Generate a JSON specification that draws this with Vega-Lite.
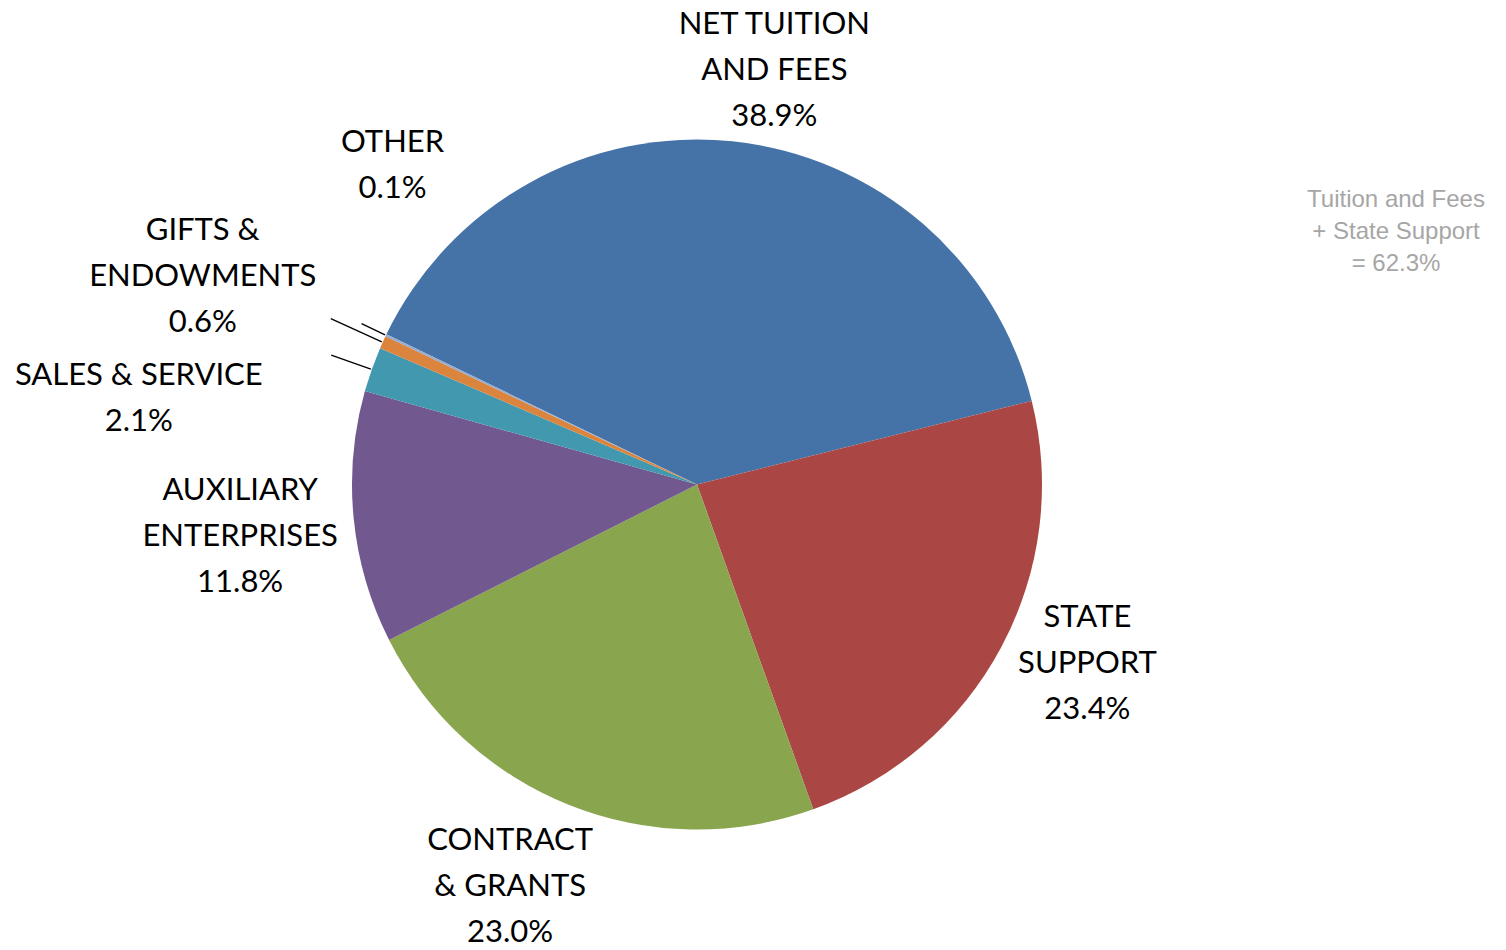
{
  "$schema": "https://vega.github.io/schema/vega-lite/v6.json",
  "width": 1394,
  "height": 931,
  "autosize": "none",
  "padding": {"left": 0, "top": 19, "right": 112, "bottom": 0},
  "background": "white",
  "config": {"view": {"stroke": null}},
  "title": {
    "text": ["Tuition and Fees", "+ State Support", "= 62.3%"],
    "anchor": "end",
    "frame": "group",
    "align": "center",
    "baseline": "alphabetic",
    "offset": 0,
    "dx": 2,
    "dy": 286,
    "fontSize": 24,
    "font": "Liberation Sans",
    "fontWeight": "normal",
    "color": "#A6A6A6",
    "lineHeight": 32
  },
  "data": {
    "values": [
      {"name": "NET TUITION\nAND FEES", "value": 38.9, "order": 1},
      {"name": "STATE\nSUPPORT", "value": 23.4, "order": 2},
      {"name": "CONTRACT\n& GRANTS", "value": 23.0, "order": 3},
      {"name": "AUXILIARY\nENTERPRISES", "value": 11.8, "order": 4},
      {"name": "SALES & SERVICE", "value": 2.1, "order": 5},
      {"name": "GIFTS &\nENDOWMENTS", "value": 0.6, "order": 6},
      {"name": "OTHER", "value": 0.1, "order": 7}
    ]
  },
  "transform": [
    {"window": [{"op": "sum", "field": "value", "as": "cum"}], "sort": [{"field": "order"}], "frame": [null, 0]},
    {"calculate": "datum.cum - datum.value / 2", "as": "mid"},
    {"calculate": "datum.name + '\\n' + format(datum.value, '.1f') + '%'", "as": "label"}
  ],
  "layer": [
    {
      "mark": {"type": "arc", "radius": 345},
      "encoding": {
        "theta": {"field": "value", "type": "quantitative", "stack": true, "scale": {"domain": [0, 99.9], "range": [-1.1205, 5.1627]}},
        "color": {
          "field": "name", "type": "nominal", "legend": null,
          "scale": {
            "domain": ["NET TUITION\nAND FEES", "STATE\nSUPPORT", "CONTRACT\n& GRANTS", "AUXILIARY\nENTERPRISES", "SALES & SERVICE", "GIFTS &\nENDOWMENTS", "OTHER"],
            "range": ["#4572A7", "#AA4643", "#89A54E", "#71588F", "#4198AF", "#DB843D", "#93A9CF"]
          }
        },
        "order": {"field": "order", "type": "quantitative"}
      }
    },
    {
      "transform": [{"filter": "datum.order == 5"}],
      "mark": {"type": "arc", "radius": 388, "radius2": 346, "filled": false, "stroke": "black", "strokeWidth": 1.3},
      "encoding": {
        "theta": {"field": "mid", "type": "quantitative", "stack": null},
        "theta2": {"field": "mid"}
      }
    },
    {
      "transform": [{"filter": "datum.order == 6"}],
      "mark": {"type": "arc", "radius": 402, "radius2": 346, "filled": false, "stroke": "black", "strokeWidth": 1.3},
      "encoding": {
        "theta": {"field": "mid", "type": "quantitative", "stack": null},
        "theta2": {"field": "mid"}
      }
    },
    {
      "transform": [{"filter": "datum.order == 7"}],
      "mark": {"type": "arc", "radius": 372, "radius2": 346, "filled": false, "stroke": "black", "strokeWidth": 1.3},
      "encoding": {
        "theta": {"field": "mid", "type": "quantitative", "stack": null},
        "theta2": {"field": "mid"}
      }
    },
    {
      "transform": [{"filter": "datum.order == 1"}],
      "mark": {"type": "text", "radius": 422, "dx": 34, "dy": -31, "align": "center", "baseline": "alphabetic", "lineBreak": "\n", "lineHeight": 46, "font": "Lato", "fontSize": 31, "color": "black"},
      "encoding": {"theta": {"field": "mid", "type": "quantitative", "stack": null}, "text": {"field": "label"}}
    },
    {
      "transform": [{"filter": "datum.order == 2"}],
      "mark": {"type": "text", "radius": 428, "dx": 13, "dy": -59, "align": "center", "baseline": "alphabetic", "lineBreak": "\n", "lineHeight": 46, "font": "Lato", "fontSize": 31, "color": "black"},
      "encoding": {"theta": {"field": "mid", "type": "quantitative", "stack": null}, "text": {"field": "label"}}
    },
    {
      "transform": [{"filter": "datum.order == 3"}],
      "mark": {"type": "text", "radius": 445, "dx": -22, "dy": -48, "align": "center", "baseline": "alphabetic", "lineBreak": "\n", "lineHeight": 46, "font": "Lato", "fontSize": 31, "color": "black"},
      "encoding": {"theta": {"field": "mid", "type": "quantitative", "stack": null}, "text": {"field": "label"}}
    },
    {
      "transform": [{"filter": "datum.order == 4"}],
      "mark": {"type": "text", "radius": 460, "dx": 1, "dy": -29, "align": "center", "baseline": "alphabetic", "lineBreak": "\n", "lineHeight": 46, "font": "Lato", "fontSize": 31, "color": "black"},
      "encoding": {"theta": {"field": "mid", "type": "quantitative", "stack": null}, "text": {"field": "label"}}
    },
    {
      "transform": [{"filter": "datum.order == 5"}],
      "mark": {"type": "text", "radius": 555, "dx": -35, "dy": 86, "align": "center", "baseline": "alphabetic", "lineBreak": "\n", "lineHeight": 46, "font": "Lato", "fontSize": 31, "color": "black"},
      "encoding": {"theta": {"field": "mid", "type": "quantitative", "stack": null}, "text": {"field": "label"}}
    },
    {
      "transform": [{"filter": "datum.order == 6"}],
      "mark": {"type": "text", "radius": 536, "dx": -6, "dy": -23, "align": "center", "baseline": "alphabetic", "lineBreak": "\n", "lineHeight": 46, "font": "Lato", "fontSize": 31, "color": "black"},
      "encoding": {"theta": {"field": "mid", "type": "quantitative", "stack": null}, "text": {"field": "label"}}
    },
    {
      "transform": [{"filter": "datum.order == 7"}],
      "mark": {"type": "text", "radius": 413, "dx": 68, "dy": -154, "align": "center", "baseline": "alphabetic", "lineBreak": "\n", "lineHeight": 46, "font": "Lato", "fontSize": 31, "color": "black"},
      "encoding": {"theta": {"field": "mid", "type": "quantitative", "stack": null}, "text": {"field": "label"}}
    }
  ]
}
